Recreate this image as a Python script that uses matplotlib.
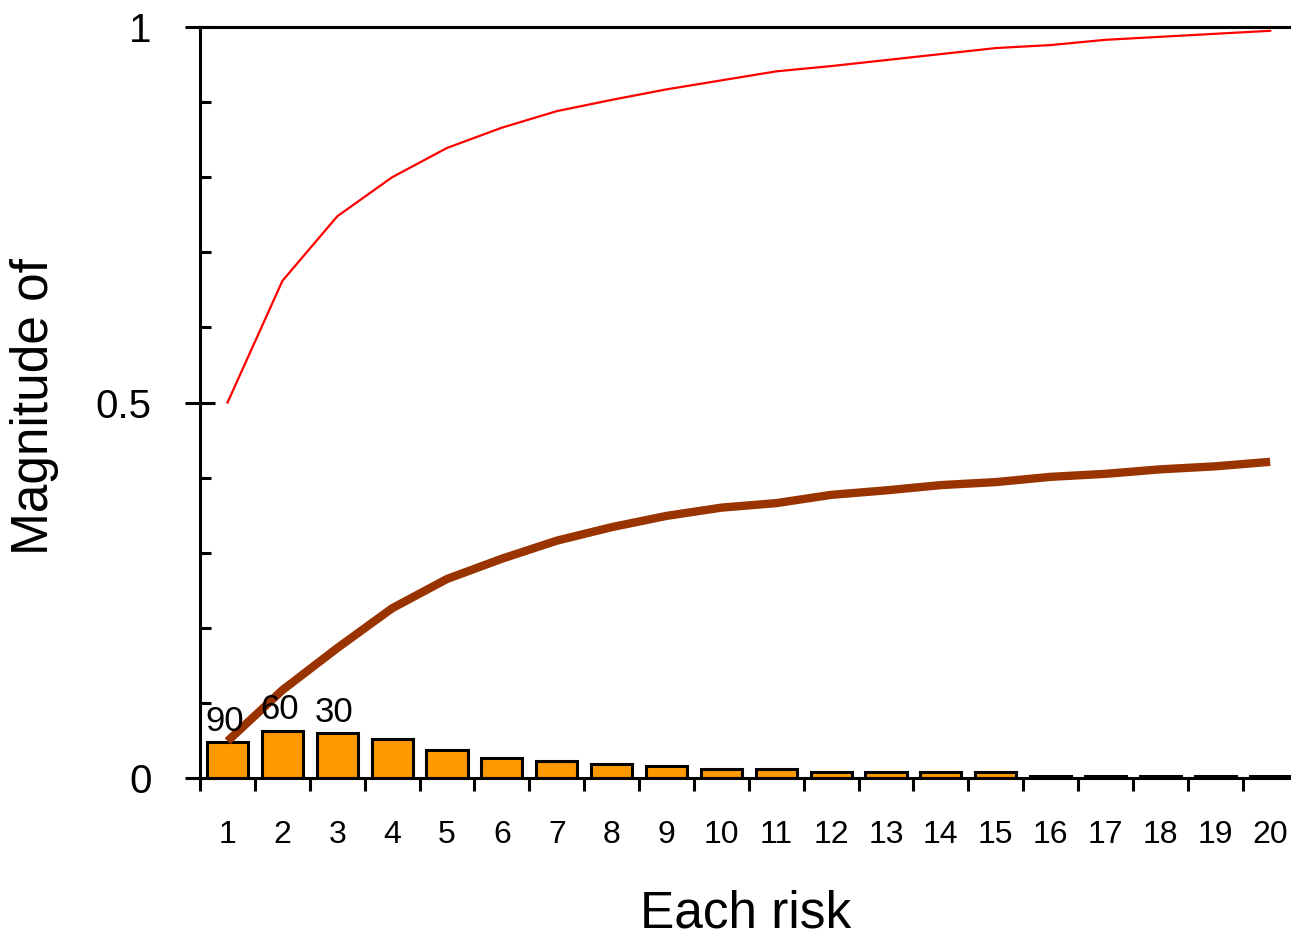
from matplotlib import pyplot as plt
from matplotlib import font_manager
import numpy as np

# data
risks = list(range(1, 21))
bar_values = [0.048, 0.063, 0.060, 0.052, 0.037, 0.026, 0.022, 0.019, 0.016, 0.012,
              0.012, 0.008, 0.008, 0.008, 0.008, 0.003, 0.003, 0.003, 0.003, 0.003]
bar_labels = ['90', '60', '30']
red_values = [0.500, 0.662, 0.748, 0.800, 0.839, 0.866, 0.888, 0.903, 0.917, 0.929,
              0.941, 0.948, 0.956, 0.964, 0.972, 0.976, 0.983, 0.987, 0.991, 0.995]
brown_values = [0.049, 0.117, 0.173, 0.226, 0.265, 0.292, 0.316, 0.334, 0.349, 0.360,
                0.366, 0.377, 0.383, 0.390, 0.394, 0.401, 0.405, 0.411, 0.415, 0.421]

names = {f.name for f in font_manager.fontManager.ttflist}
font = 'Liberation Sans Narrow' if 'Liberation Sans Narrow' in names else 'Liberation Sans'
plt.rcParams['font.family'] = [font, 'DejaVu Sans']

fig = plt.figure(figsize=(12.91, 9.39), dpi=100)
ax = fig.add_axes([0.155, 0.1715, 0.845, 0.7997])

ax.bar(risks, bar_values, width=0.75, color='#FF9900', edgecolor='black', linewidth=2.2, zorder=2)
ax.plot(risks, brown_values, color='#993300', linewidth=6, solid_capstyle='butt', zorder=3)
ax.plot(risks, red_values, color='#FF0000', linewidth=1.6, zorder=3)

for i, lab in enumerate(bar_labels):
    ax.annotate(lab, (risks[i], bar_values[i]), xytext=(-2, 3), textcoords='offset points',
                ha='center', va='bottom', fontsize=25)

ax.set_xlim(0.508, 20.38)
ax.set_ylim(0, 1)

ax.spines['right'].set_visible(False)
for s in ['left', 'bottom', 'top']:
    ax.spines[s].set_linewidth(2.2)

ax.set_yticks([0, 0.5, 1])
ax.set_yticklabels(['0', '0.5', '1'])
ax.set_yticks(np.arange(0.1, 1.0, 0.1), minor=True)
ax.tick_params(axis='y', which='major', direction='inout', length=22, width=2.2,
               labelsize=29, pad=24)
ax.tick_params(axis='y', which='minor', direction='in', length=8, width=2.2)

ax.set_xticks(risks)
ax.set_xticklabels([str(r) for r in risks])
ax.set_xticks(np.arange(0.5, 20.5, 1.0), minor=True)
ax.tick_params(axis='x', which='major', length=0, labelsize=23, pad=30)
ax.tick_params(axis='x', which='minor', direction='out', length=9, width=2.2)

ax.set_xlabel('Each risk', fontsize=37)
ax.xaxis.set_label_coords(0.5, -0.148)
ax.set_ylabel('Magnitude of', fontsize=37)
ax.yaxis.set_label_coords(-0.129, 0.495)

fig.savefig('out.png', dpi=100)
